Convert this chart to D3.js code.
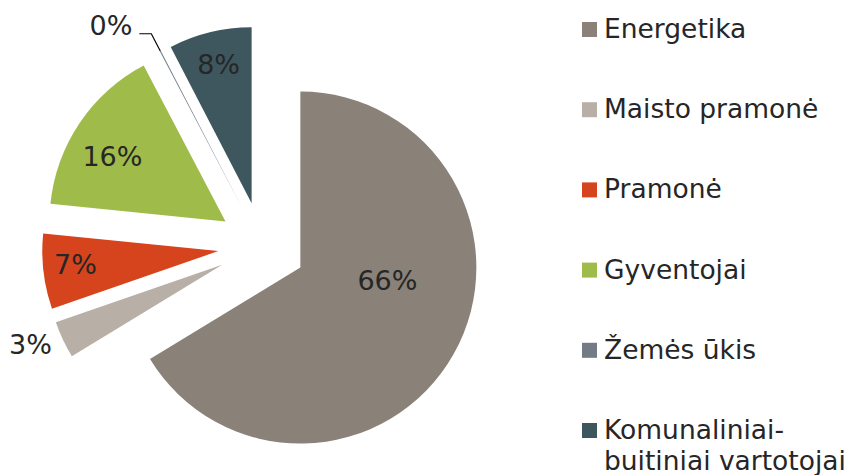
<!DOCTYPE html>
<html>
<head>
<meta charset="utf-8">
<script src="https://cdn.jsdelivr.net/npm/d3@7"></script>
<style>
  html, body { margin: 0; padding: 0; background: #ffffff; }
  svg { display: block; }
  text { font-family: "DejaVu Sans", Verdana, sans-serif; fill: #262626; }
</style>
</head>
<body>
<svg id="chart" width="850" height="475"></svg>
<script>
// ---- data ----
const categories = ["Energetika", "Maisto pramonė", "Pramonė", "Gyventojai", "Žemės ūkis", "Komunaliniai-buitiniai vartotojai"];
const legendLines = [["Energetika"], ["Maisto pramonė"], ["Pramonė"], ["Gyventojai"], ["Žemės ūkis"], ["Komunaliniai-", "buitiniai vartotojai"]];
const shares = [66.3, 3.4, 6.9, 15.7, 0.1, 7.6];
const colors = ["#8a8178", "#b8afa6", "#d6441e", "#9fbc4b", "#727b86", "#3e575f"];

// ---- layout config (not data) ----
const W = 850, H = 475;
const cx = 262, cy = 246, R = 176, explode = 44;
// label placement: mode, radius fraction, angle shift from slice middle (degrees)
const labelMode = ["inside", "outside", "inside", "inside", "leader", "inside"];
const labelRadius = [0.5, 1.07, 0.815, 0.74, 1.11, 0.81];
const labelShift = [-20.9, 0, 1.5, -4.3, 0, 0.3];

const svg = d3.select("#chart");
const total = d3.sum(shares);

const pie = d3.pie().sort(null).value(d => d).startAngle(0).endAngle(2 * Math.PI);
const arcs = pie(shares);
const arc = d3.arc().innerRadius(0).outerRadius(R);

const pt = (a, r) => [Math.sin(a) * r, -Math.cos(a) * r];

const g = svg.append("g").attr("transform", `translate(${cx},${cy})`);

arcs.forEach((a, i) => {
  const mid = (a.startAngle + a.endAngle) / 2;
  const off = pt(mid, explode);
  const sg = g.append("g").attr("transform", `translate(${off[0]},${off[1]})`);
  sg.append("path").attr("d", arc(a)).attr("fill", colors[i]);

  const pct = Math.round(shares[i] / total * 100) + "%";
  const la = mid + labelShift[i] * Math.PI / 180;
  const p = pt(la, R * labelRadius[i]);
  if (labelMode[i] === "inside") {
    sg.append("text").attr("x", p[0]).attr("y", p[1])
      .attr("text-anchor", "middle").attr("dominant-baseline", "central")
      .attr("font-size", 27).text(pct);
  } else if (labelMode[i] === "outside") {
    sg.append("text").attr("x", p[0]).attr("y", p[1])
      .attr("text-anchor", "end").attr("dominant-baseline", "central")
      .attr("font-size", 27).text(pct);
  } else {
    const p0 = pt(mid, R);
    const p2 = [p[0] - 12, p[1]];
    sg.append("path").attr("d", d3.line()([p0, p, p2]))
      .attr("fill", "none").attr("stroke", "#000").attr("stroke-width", 1.2);
    sg.append("text").attr("x", p2[0] - 7).attr("y", p2[1] - 8)
      .attr("text-anchor", "end").attr("dominant-baseline", "central")
      .attr("font-size", 27).text(pct);
  }
});

// ---- legend ----
const ly = d3.scalePoint().domain(categories).range([29.5, 430.5]);
const leg = svg.append("g");
categories.forEach((c, i) => {
  const y = ly(c);
  leg.append("rect").attr("x", 582).attr("y", y - 7.5).attr("width", 15).attr("height", 15).attr("fill", colors[i]);
  const t = leg.append("text").attr("x", 604).attr("y", y + 8.5).attr("font-size", 26.5);
  legendLines[i].forEach((line, j) => {
    t.append("tspan").attr("x", 604).attr("dy", j === 0 ? 0 : 31).text(line);
  });
});
</script>
</body>
</html>
